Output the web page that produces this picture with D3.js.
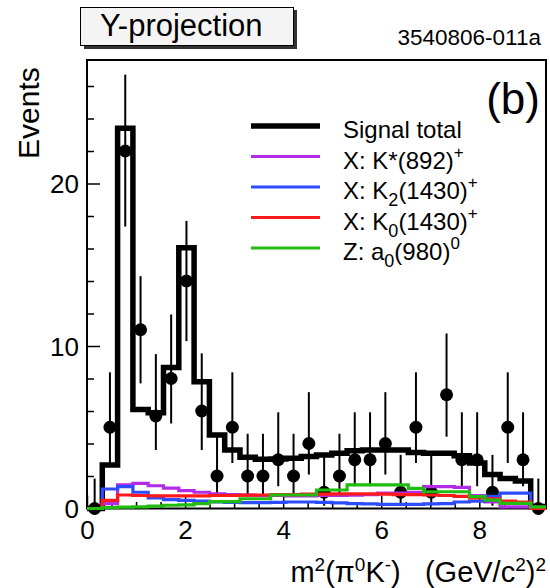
<!DOCTYPE html>
<html>
<head>
<meta charset="utf-8">
<script src="https://cdn.jsdelivr.net/npm/d3@7"></script>
<style>
  body { margin: 0; background: #fff; }
  text { font-family: "Liberation Sans", Arial, Helvetica, sans-serif; }
</style>
</head>
<body>
<svg width="550" height="588"></svg>
<script>
var width = 550;
var height = 588;

// binning of m^2(pi0 K-)
var xMax = 9.36;
var nBins = 30;

// data points (events per bin) and their asymmetric errors
var counts  = [0, 5, 22, 11, 5.7, 8, 14, 6, 2, 5, 2, 2, 3, 2, 4, 1, 2, 3, 3, 4, 1, 5, 1, 7, 3, 3, 1, 5, 3, 0];
var errUp   = [1.84, 3.38, 4.7, 3.3, 3.8, 3.94, 3.7, 3.55, 2.6, 3.38, 2.6, 2.6, 2.92, 2.6, 3.16, 2.3, 2.6, 2.92, 2.92, 3.16, 2.3, 3.38, 2.3, 3.77, 2.92, 2.92, 2.3, 3.38, 2.92, 1.84];
var errDown = [0, 2.2, 4.65, 3.3, 2.1, 2.77, 3.7, 2.4, 1.29, 2.2, 1.29, 1.29, 1.63, 1.29, 1.91, 0.83, 1.29, 1.63, 1.63, 1.91, 0.83, 2.2, 0.83, 2.58, 1.63, 1.63, 0.83, 2.2, 1.63, 0];

// fit components, per bin
var signalTotal = [0, 2.67, 23.4, 6.1, 5.9, 8.68, 16.04, 7.8, 4.52, 3.6, 3.15, 3.03, 3.05, 3.1, 3.2, 3.3, 3.4, 3.55, 3.6, 3.6, 3.6, 3.45, 3.4, 3.4, 3.25, 2.8, 2.1, 1.85, 1.7, 0.12];
var kstar892    = [0, 0.3, 1.45, 1.55, 1.4, 1.25, 1.1, 1.0, 0.9, 0.85, 0.82, 0.8, 0.8, 0.78, 0.78, 0.8, 0.8, 0.82, 0.85, 0.95, 0.95, 1.0, 1.35, 1.35, 1.3, 0.8, 0.4, 0.1, 0.1, 0];
var k2_1430     = [0, 1.2, 1.35, 1.0, 0.65, 0.55, 0.5, 0.45, 0.4, 0.38, 0.36, 0.36, 0.38, 0.4, 0.4, 0.38, 0.35, 0.3, 0.28, 0.25, 0.25, 0.25, 0.28, 0.3, 0.4, 0.45, 0.75, 0.95, 0.95, 0];
var k0_1430     = [0, 0.5, 0.83, 0.8, 0.78, 0.78, 0.78, 0.78, 0.8, 0.8, 0.82, 0.83, 0.85, 0.85, 0.88, 0.88, 0.9, 0.9, 0.9, 0.88, 0.85, 0.85, 0.83, 0.8, 0.75, 0.65, 0.6, 0.45, 0.4, 0];
var a0_980      = [0, 0.05, 0.08, 0.1, 0.15, 0.2, 0.22, 0.3, 0.42, 0.42, 0.6, 0.6, 0.83, 0.83, 0.83, 1.14, 1.14, 1.45, 1.45, 1.45, 1.45, 1.24, 1.03, 1.03, 1.03, 0.73, 0.52, 0.32, 0.32, 0.1];

var xTicks = [0, 2, 4, 6, 8];
var yTicks = [0, 10, 20];

var components = [
  { name: "X: K*(892)",  sub: "",  sup: "+", values: kstar892, color: "#b22ce8" },
  { name: "X: K",        sub: "2", sup: "+", after: "(1430)", values: k2_1430, color: "#2e4cff" },
  { name: "X: K",        sub: "0", sup: "+", after: "(1430)", values: k0_1430, color: "#ff1a1a" },
  { name: "Z: a",        sub: "0", sup: "0", after: "(980)",  values: a0_980,  color: "#22bb11" }
];

var svg = d3.select("svg");

var x = d3.scaleLinear().domain([0, xMax]).range([87, 546]);
var y = d3.scaleLinear().domain([0, 27.6]).range([508.5, 60]);

var binW = xMax / nBins;
var edges = d3.range(nBins + 1).map(i => i * binW);

function stepPath(values) {
  var pts = values.map((v, i) => [edges[i], v]);
  pts.push([edges[nBins], values[nBins - 1]]);
  return d3.line()
    .x(d => x(d[0]))
    .y(d => y(d[1]))
    .curve(d3.curveStepAfter)(pts);
}

// title box
svg.append("rect")
  .attr("x", 84).attr("y", 10).attr("width", 213).attr("height", 39)
  .attr("fill", "#333");
svg.append("rect")
  .attr("x", 80.5).attr("y", 7.5).attr("width", 213).attr("height", 38)
  .attr("fill", "#f4f4f4").attr("stroke", "#000").attr("stroke-width", 1);
svg.append("text")
  .attr("x", 100).attr("y", 36)
  .style("font-size", "31px")
  .text("Y-projection");

svg.append("text")
  .attr("x", 541).attr("y", 45)
  .attr("text-anchor", "end")
  .style("font-size", "22.5px")
  .text("3540806-011a");

// axes (ticks inside)
var gx = svg.append("g").attr("transform", "translate(0,508.5)");
gx.call(d3.axisBottom(x).tickValues(d3.range(0, 9.01, 0.5)).tickSize(-6.5).tickFormat(""));
gx.call(g => g.selectAll(".tick").filter(d => xTicks.indexOf(d) >= 0).remove());
var gx2 = svg.append("g").attr("transform", "translate(0,508.5)");
gx2.call(d3.axisBottom(x).tickValues(xTicks).tickSize(-13).tickPadding(12).tickFormat(d3.format("d")));

var gy = svg.append("g").attr("transform", "translate(87,0)");
gy.call(d3.axisLeft(y).tickValues(d3.range(2, 27, 2).filter(d => d % 10)).tickSize(-7).tickFormat(""));
var gy2 = svg.append("g").attr("transform", "translate(87,0)");
gy2.call(d3.axisLeft(y).tickValues(yTicks).tickSize(-13).tickPadding(8).tickFormat(d3.format("d")));

svg.selectAll(".domain").remove();
svg.selectAll(".tick line").attr("stroke", "#000").attr("stroke-width", 1.5);
svg.selectAll(".tick text").style("font-size", "26px").attr("fill", "#000")
  .style("font-family", "'Liberation Sans', Arial, sans-serif");
gy2.selectAll(".tick text").attr("dy", "0.36em");

// frame
svg.append("rect")
  .attr("x", x(0)).attr("y", y(27.6))
  .attr("width", x(xMax) - x(0)).attr("height", y(0) - y(27.6))
  .attr("fill", "none").attr("stroke", "#000").attr("stroke-width", 2);

// signal total
svg.append("path")
  .attr("d", stepPath(signalTotal))
  .attr("fill", "none").attr("stroke", "#000").attr("stroke-width", 5.5)
  .attr("stroke-linejoin", "miter");

// data points
var pts = svg.append("g");
counts.forEach((c, i) => {
  var cx = x((edges[i] + edges[i + 1]) / 2);
  pts.append("line")
    .attr("x1", cx).attr("x2", cx)
    .attr("y1", y(c - errDown[i])).attr("y2", y(c + errUp[i]))
    .attr("stroke", "#000").attr("stroke-width", 2);
  pts.append("circle")
    .attr("cx", cx).attr("cy", y(c)).attr("r", 6.5)
    .attr("fill", "#000");
});

// components
components.forEach(c => {
  svg.append("path")
    .attr("d", stepPath(c.values))
    .attr("fill", "none").attr("stroke", c.color).attr("stroke-width", 3.2);
});

// legend
var legY = [126, 156.5, 187, 217.5, 248];
var leg = svg.append("g");
leg.append("line")
  .attr("x1", 251).attr("x2", 320).attr("y1", legY[0]).attr("y2", legY[0])
  .attr("stroke", "#000").attr("stroke-width", 5.5);
leg.append("text")
  .attr("x", 343).attr("y", legY[0] + 12)
  .style("font-size", "24px")
  .text("Signal total");

components.forEach((c, i) => {
  var ly = legY[i + 1];
  leg.append("line")
    .attr("x1", 251).attr("x2", 320).attr("y1", ly).attr("y2", ly)
    .attr("stroke", c.color).attr("stroke-width", 3.2);
  var t = leg.append("text")
    .attr("x", 343).attr("y", ly + 12)
    .style("font-size", "24px");
  t.append("tspan").text(c.name);
  if (c.sub) {
    t.append("tspan").attr("dy", 7).style("font-size", "18px").text(c.sub);
    t.append("tspan").attr("dy", -7).text(c.after);
  }
  t.append("tspan").attr("dy", -11).style("font-size", "17px").text(c.sup);
});

// (b)
svg.append("text")
  .attr("x", 540).attr("y", 114)
  .attr("text-anchor", "end")
  .style("font-size", "44px")
  .text("(b)");

// axis titles
svg.append("text")
  .attr("transform", "translate(39,159) rotate(-90)")
  .attr("text-anchor", "start")
  .style("font-size", "30px")
  .text("Events");

var xt = svg.append("text")
  .attr("x", 546).attr("y", 582)
  .attr("text-anchor", "end")
  .style("font-size", "29px");
xt.append("tspan").text("m");
xt.append("tspan").attr("dy", -11).style("font-size", "19px").text("2");
xt.append("tspan").attr("dy", 11).text("(π");
xt.append("tspan").attr("dy", -11).style("font-size", "19px").text("0");
xt.append("tspan").attr("dy", 11).text("K");
xt.append("tspan").attr("dy", -11).style("font-size", "19px").text("-");
xt.append("tspan").attr("dy", 11).text(")\u00a0\u00a0\u00a0(GeV/c");
xt.append("tspan").attr("dy", -11).style("font-size", "19px").text("2");
xt.append("tspan").attr("dy", 11).text(")");
xt.append("tspan").attr("dy", -11).style("font-size", "19px").text("2");
</script>
</body>
</html>
